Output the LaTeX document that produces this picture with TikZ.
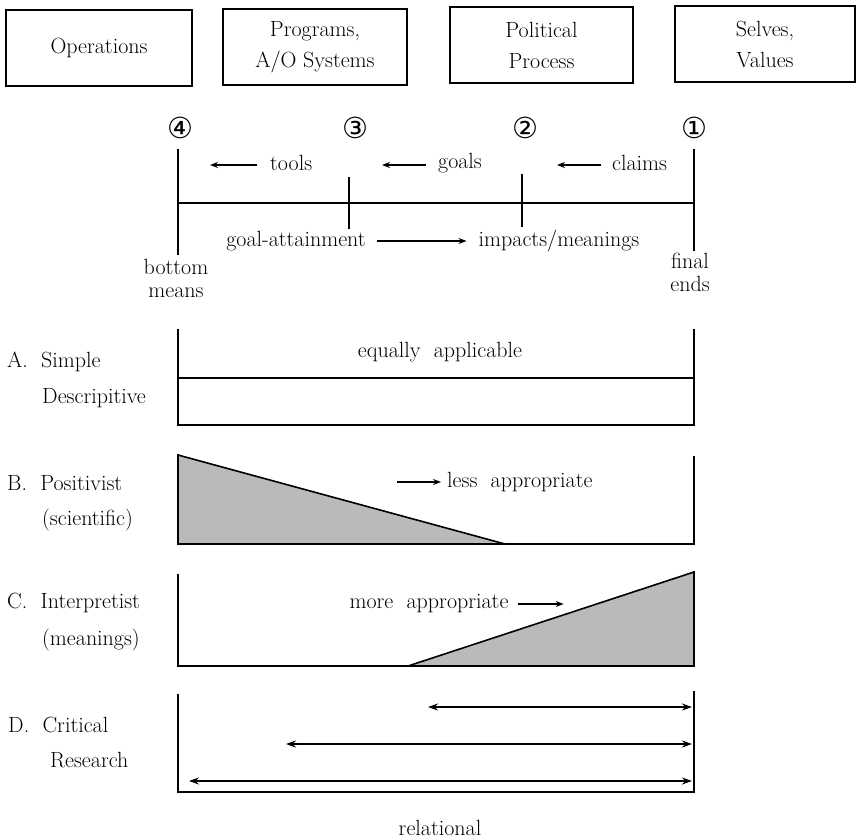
\documentclass[tikz,border=0pt]{standalone}
\usepackage{fontspec}
\newfontfamily\circfont{DejaVu Sans}
\usetikzlibrary{arrows.meta}
\begin{document}
\begin{tikzpicture}[x=1pt,y=-1pt,
  every node/.style={font=\fontsize{22}{31}\selectfont, inner sep=0pt},
  topbox/.style={draw, line width=1.5pt, align=center, minimum height=76pt},
  lab/.style={anchor=west},
  num/.style={font=\circfont\fontsize{29}{29}\selectfont},
  heavy/.style={line width=2.4pt, line cap=rect},
  slant/.style={line width=1.6pt},
  thinarrow/.style={line width=1.3pt, -{Stealth[length=8pt,width=6pt]}},
  bothways/.style={line width=2.6pt, {Stealth[length=10pt,width=7pt]}-{Stealth[length=10pt,width=7pt]}},
  shade/.style={fill=black!27},
]
\useasboundingbox (0,0) rectangle (857,839);

% top boxes
\node[topbox, minimum width=186pt] (b1) at (99,48) {Operations};
\node[topbox, minimum width=184pt] (b2) at (315,47) {Programs,\\A/O Systems};
\node[topbox, minimum width=183pt] (b3) at (541.5,45) {Political\\Process};
\node[topbox, minimum width=180pt] (b4) at (765,44) {Selves,\\Values};

% circled numbers
\node[num] (n4) at (180,128) {④};
\node[num] (n3) at (355,128) {③};
\node[num] (n2) at (525,128) {②};
\node[num] (n1) at (694,128) {①};

% timeline
\coordinate (L0) at (178,150); \coordinate (L1) at (178,254);
\coordinate (R0) at (694,150); \coordinate (R1) at (694,250);
\coordinate (Lm) at (178,203); \coordinate (Rm) at (694,203);
\coordinate (T1a) at (349,178); \coordinate (T1b) at (349,228);
\coordinate (T2a) at (522,175); \coordinate (T2b) at (522,226);
\draw[heavy] (L0) -- (L1);
\draw[heavy] (R0) -- (R1);
\draw[heavy] (Lm) -- (Rm);
\draw[heavy] (T1a) -- (T1b);
\draw[heavy] (T2a) -- (T2b);

% tools / goals / claims
\coordinate (ta) at (257,165); \coordinate (tb) at (210,165);
\draw[thinarrow] (ta) -- (tb);
\node[lab] (tools) at (270,163) {tools};
\coordinate (ga) at (426,165); \coordinate (gb) at (382,165);
\draw[thinarrow] (ga) -- (gb);
\node[lab] (goals) at (438,163) {goals};
\coordinate (ca) at (601,165); \coordinate (cb) at (557,165);
\draw[thinarrow] (ca) -- (cb);
\node[lab] (claims) at (612,163) {claims};

% goal-attainment -> impacts/meanings
\node (goal) at (296,241) {goal-attainment};
\node (imp) at (559,241) {impacts/meanings};
\draw[thinarrow] ([xshift=11pt]goal.east) -- ([xshift=-12pt]imp.west);

\node[align=center, font=\fontsize{22}{23}\selectfont] (bm) at (176,278) {bottom\\means};
\node[align=center, font=\fontsize{22}{23}\selectfont] (fe) at (690,272) {final\\ends};

% A. Simple Descriptive
\coordinate (A0) at (178,330); \coordinate (A1) at (178,425);
\coordinate (A2) at (694,425); \coordinate (A3) at (694,330);
\coordinate (Am0) at (178,378); \coordinate (Am1) at (694,378);
\draw[heavy] (A0) -- (A1) -- (A2) -- (A3);
\draw[heavy] (Am0) -- (Am1);
\node (eq) at (440,352) {equally\ \ applicable};
\node[lab] (la1) at (7,362) {A.\ \ Simple};
\node[lab] (la2) at (42,398) {Descripitive};

% B. Positivist
\coordinate (B0) at (178,455); \coordinate (B1) at (178,544);
\coordinate (B2) at (694,544); \coordinate (B3) at (694,457);
\coordinate (Bt) at (505,544);
\fill[shade] (B0) -- (B1) -- (Bt) -- cycle;
\draw[slant] (B0) -- (Bt);
\draw[heavy] (B0) -- (B1) -- (B2) -- (B3);
\node[lab] (less) at (447,482) {less\ \ appropriate};
\draw[thinarrow] ([xshift=-50pt]less.west) -- ([xshift=-6pt]less.west);
\node[lab] (lb1) at (7,483) {B.\ \ Positivist};
\node[lab] (lb2) at (42,520) {(scientific)};

% C. Interpretist
\coordinate (C0) at (178,575); \coordinate (C1) at (178,666);
\coordinate (C2) at (694,666); \coordinate (C3) at (694,572);
\coordinate (Ct) at (408,666);
\fill[shade] (Ct) -- (C2) -- (C3) -- cycle;
\draw[slant] (Ct) -- (C3);
\draw[heavy] (C0) -- (C1) -- (C2) -- (C3);
\node (more) at (429,604) {more\ \ appropriate};
\draw[thinarrow] ([xshift=9pt]more.east) -- ([xshift=55pt]more.east);
\node[lab] (lc1) at (7,603) {C.\ \ Interpretist};
\node[lab] (lc2) at (42,640) {(meanings)};

% D. Critical Research
\coordinate (D0) at (178,695); \coordinate (D1) at (178,792);
\coordinate (D2) at (694,792); \coordinate (D3) at (694,692);
\draw[heavy] (D0) -- (D1) -- (D2) -- (D3);
\coordinate (d1l) at (428,707); \coordinate (d1r) at (692,707);
\coordinate (d2l) at (286,744); \coordinate (d2r) at (692,744);
\coordinate (d3l) at (189,781); \coordinate (d3r) at (692,781);
\draw[bothways] (d1l) -- (d1r);
\draw[bothways] (d2l) -- (d2r);
\draw[bothways] (d3l) -- (d3r);
\node[lab] (ld1) at (8,725) {D.\ \ Critical};
\node[lab] (ld2) at (50,760) {Research};

\node (rel) at (440,828) {relational};
\end{tikzpicture}
\end{document}
